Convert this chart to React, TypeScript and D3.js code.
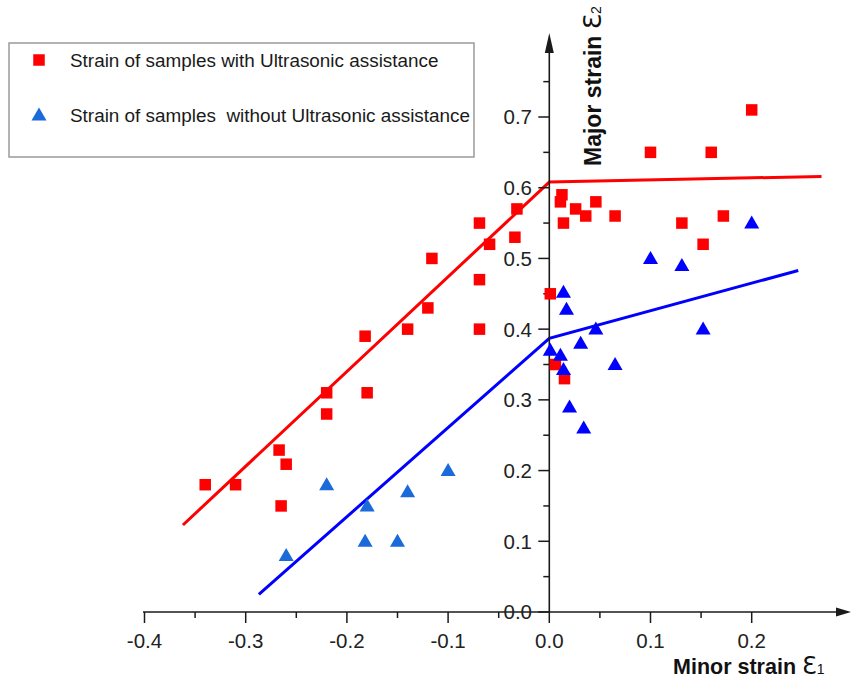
import React from "react";
import * as d3 from "d3";

const redX = [-0.34, -0.31, -0.267, -0.26, -0.265, -0.22, -0.22, -0.182, -0.18, -0.14, -0.12, -0.116, -0.069, -0.069, -0.069, -0.059, -0.032, -0.034, 0.001, 0.006, 0.015, 0.0125, 0.011, 0.014, 0.026, 0.036, 0.046, 0.065, 0.1, 0.16, 0.2, 0.131, 0.172, 0.152];
const redY = [0.18, 0.18, 0.229, 0.209, 0.15, 0.31, 0.28, 0.39, 0.31, 0.40, 0.43, 0.50, 0.55, 0.47, 0.40, 0.52, 0.57, 0.53, 0.45, 0.35, 0.33, 0.59, 0.58, 0.55, 0.57, 0.56, 0.58, 0.56, 0.65, 0.65, 0.71, 0.55, 0.56, 0.52];

const blueX = [-0.26, -0.22, -0.18, -0.182, -0.15, -0.14, -0.10, 0.001, 0.011, 0.014, 0.014, 0.017, 0.02, 0.031, 0.034, 0.046, 0.065, 0.1, 0.131, 0.152, 0.2];
const blueY = [0.08, 0.18, 0.15, 0.10, 0.10, 0.17, 0.20, 0.37, 0.363, 0.343, 0.452, 0.428, 0.29, 0.38, 0.26, 0.40, 0.35, 0.50, 0.49, 0.40, 0.55];

const redFitX = [-0.362, 0.0, 0.269];
const redFitY = [0.123, 0.608, 0.616];
const blueFitX = [-0.287, 0.0, 0.246];
const blueFitY = [0.025, 0.387, 0.483];

const xTickValues = [-0.4, -0.3, -0.2, -0.1, 0.0, 0.1, 0.2];
const xTickLabels = ["-0.4", "-0.3", "-0.2", "-0.1", "0.0", "0.1", "0.2"];
const yTickValues = [0.0, 0.1, 0.2, 0.3, 0.4, 0.5, 0.6, 0.7];
const yTickLabels = ["0.0", "0.1", "0.2", "0.3", "0.4", "0.5", "0.6", "0.7"];

const legendLabels = [
  "Strain of samples with Ultrasonic assistance",
  "Strain of samples  without Ultrasonic assistance",
];

const W = 851;
const H = 682;
const FONT = "'Liberation Sans', Arial, sans-serif";
const AXIS = "#1a1a1a";
const RED = "#ff0000";
const BLUE = "#0000ff";
const LBLUE = "#1a6ad9";

export default function App() {
  const x = d3.scaleLinear().domain([-0.4, 0.2]).range([144.5, 751.7]);
  const y = d3.scaleLinear().domain([0, 0.7]).range([612, 117]);
  const x0 = x(0);
  const y0 = y(0);

  const line = d3
    .line<[number, number]>()
    .x((d) => x(d[0]))
    .y((d) => y(d[1]));
  const redFit: [number, number][] = redFitX.map((v, i) => [v, redFitY[i]]);
  const blueFit: [number, number][] = blueFitX.map((v, i) => [v, blueFitY[i]]);

  const xMinor = d3.range(-0.35, 0.2, 0.1).map((v) => +v.toFixed(2));
  const yMinor = d3.range(0.05, 0.8, 0.1).map((v) => +v.toFixed(2));

  const sq = 11.5;
  const tri = (cx: number, cy: number) => {
    const w = 15, h = 13;
    return `M${cx},${cy - h * 0.58}L${cx + w / 2},${cy + h * 0.42}L${cx - w / 2},${cy + h * 0.42}Z`;
  };

  return (
    <svg width={W} height={H} style={{ position: "absolute", left: 0, top: 0, background: "#fff" }}>
      <rect x={0} y={0} width={W} height={H} fill="#fff" />
      {/* legend */}
      <rect x={9} y={43} width={465} height={114} fill="#fff" stroke="#9a9a9a" strokeWidth={1.5} />
      <rect x={39 - sq / 2} y={60 - sq / 2} width={sq} height={sq} fill={RED} />
      <path d={tri(39, 115)} fill={LBLUE} />
      <text x={70} y={60} dy="0.35em" fontFamily={FONT} fontSize={18.9} fill="#1a1a1a">{legendLabels[0]}</text>
      <text x={70} y={115} dy="0.35em" fontFamily={FONT} fontSize={18.9} fill="#1a1a1a" style={{ whiteSpace: "pre" }}>{legendLabels[1]}</text>

      {/* fit lines */}
      <path d={line(redFit) || ""} fill="none" stroke={RED} strokeWidth={3} />
      <path d={line(blueFit) || ""} fill="none" stroke={BLUE} strokeWidth={3} />

      {/* x axis */}
      <line x1={143} x2={840} y1={y0} y2={y0} stroke={AXIS} strokeWidth={1.6} />
      <path d={`M851,${y0}L836,${y0 - 4.5}L836,${y0 + 4.5}Z`} fill={AXIS} />
      {xTickValues.map((v, i) => (
        <g key={"xt" + i}>
          <line x1={x(v)} x2={x(v)} y1={y0} y2={y0 + 11} stroke={AXIS} strokeWidth={1.5} />
          <text x={x(v)} y={648} textAnchor="middle" fontFamily={FONT} fontSize={20.5} fill="#222">{xTickLabels[i]}</text>
        </g>
      ))}
      {xMinor.map((v, i) => (
        <line key={"xm" + i} x1={x(v)} x2={x(v)} y1={y0} y2={y0 + 6} stroke={AXIS} strokeWidth={1.5} />
      ))}

      {/* y axis */}
      <line x1={x0} x2={x0} y1={y0} y2={48} stroke={AXIS} strokeWidth={1.6} />
      <path d={`M${x0},33L${x0 + 4.5},53L${x0 - 4.5},53Z`} fill={AXIS} />
      {yTickValues.map((v, i) => (
        <g key={"yt" + i}>
          <line x1={x0 - 11} x2={x0} y1={y(v)} y2={y(v)} stroke={AXIS} strokeWidth={1.5} />
          <text x={532} y={y(v)} dy="0.36em" textAnchor="end" fontFamily={FONT} fontSize={20.5} fill="#222">{yTickLabels[i]}</text>
        </g>
      ))}
      {yMinor.map((v, i) => (
        <line key={"ym" + i} x1={x0 - 6} x2={x0} y1={y(v)} y2={y(v)} stroke={AXIS} strokeWidth={1.5} />
      ))}

      {/* markers */}
      {redX.map((v, i) => (
        <rect key={"r" + i} x={x(v) - sq / 2} y={y(redY[i]) - sq / 2} width={sq} height={sq} fill={RED} />
      ))}
      {blueX.map((v, i) => (
        <path key={"b" + i} d={tri(x(v), y(blueY[i]))} fill={v < 0 ? LBLUE : BLUE} />
      ))}

      {/* axis titles */}
      <text transform="translate(600.5,166) rotate(-90)" fontFamily={FONT} fill="#111">
        <tspan fontWeight="bold" fontSize={23}>Major strain </tspan>
        <tspan fontSize={25} fontFamily="'DejaVu Sans', sans-serif">Ɛ</tspan>
        <tspan fontSize={14}>2</tspan>
      </text>
      <text x={673} y={674} fontFamily={FONT} fill="#111">
        <tspan fontWeight="bold" fontSize={21.5}>Minor strain </tspan>
        <tspan fontSize={24} fontFamily="'DejaVu Sans', sans-serif">Ɛ</tspan>
        <tspan fontSize={14}>1</tspan>
      </text>
    </svg>
  );
}
